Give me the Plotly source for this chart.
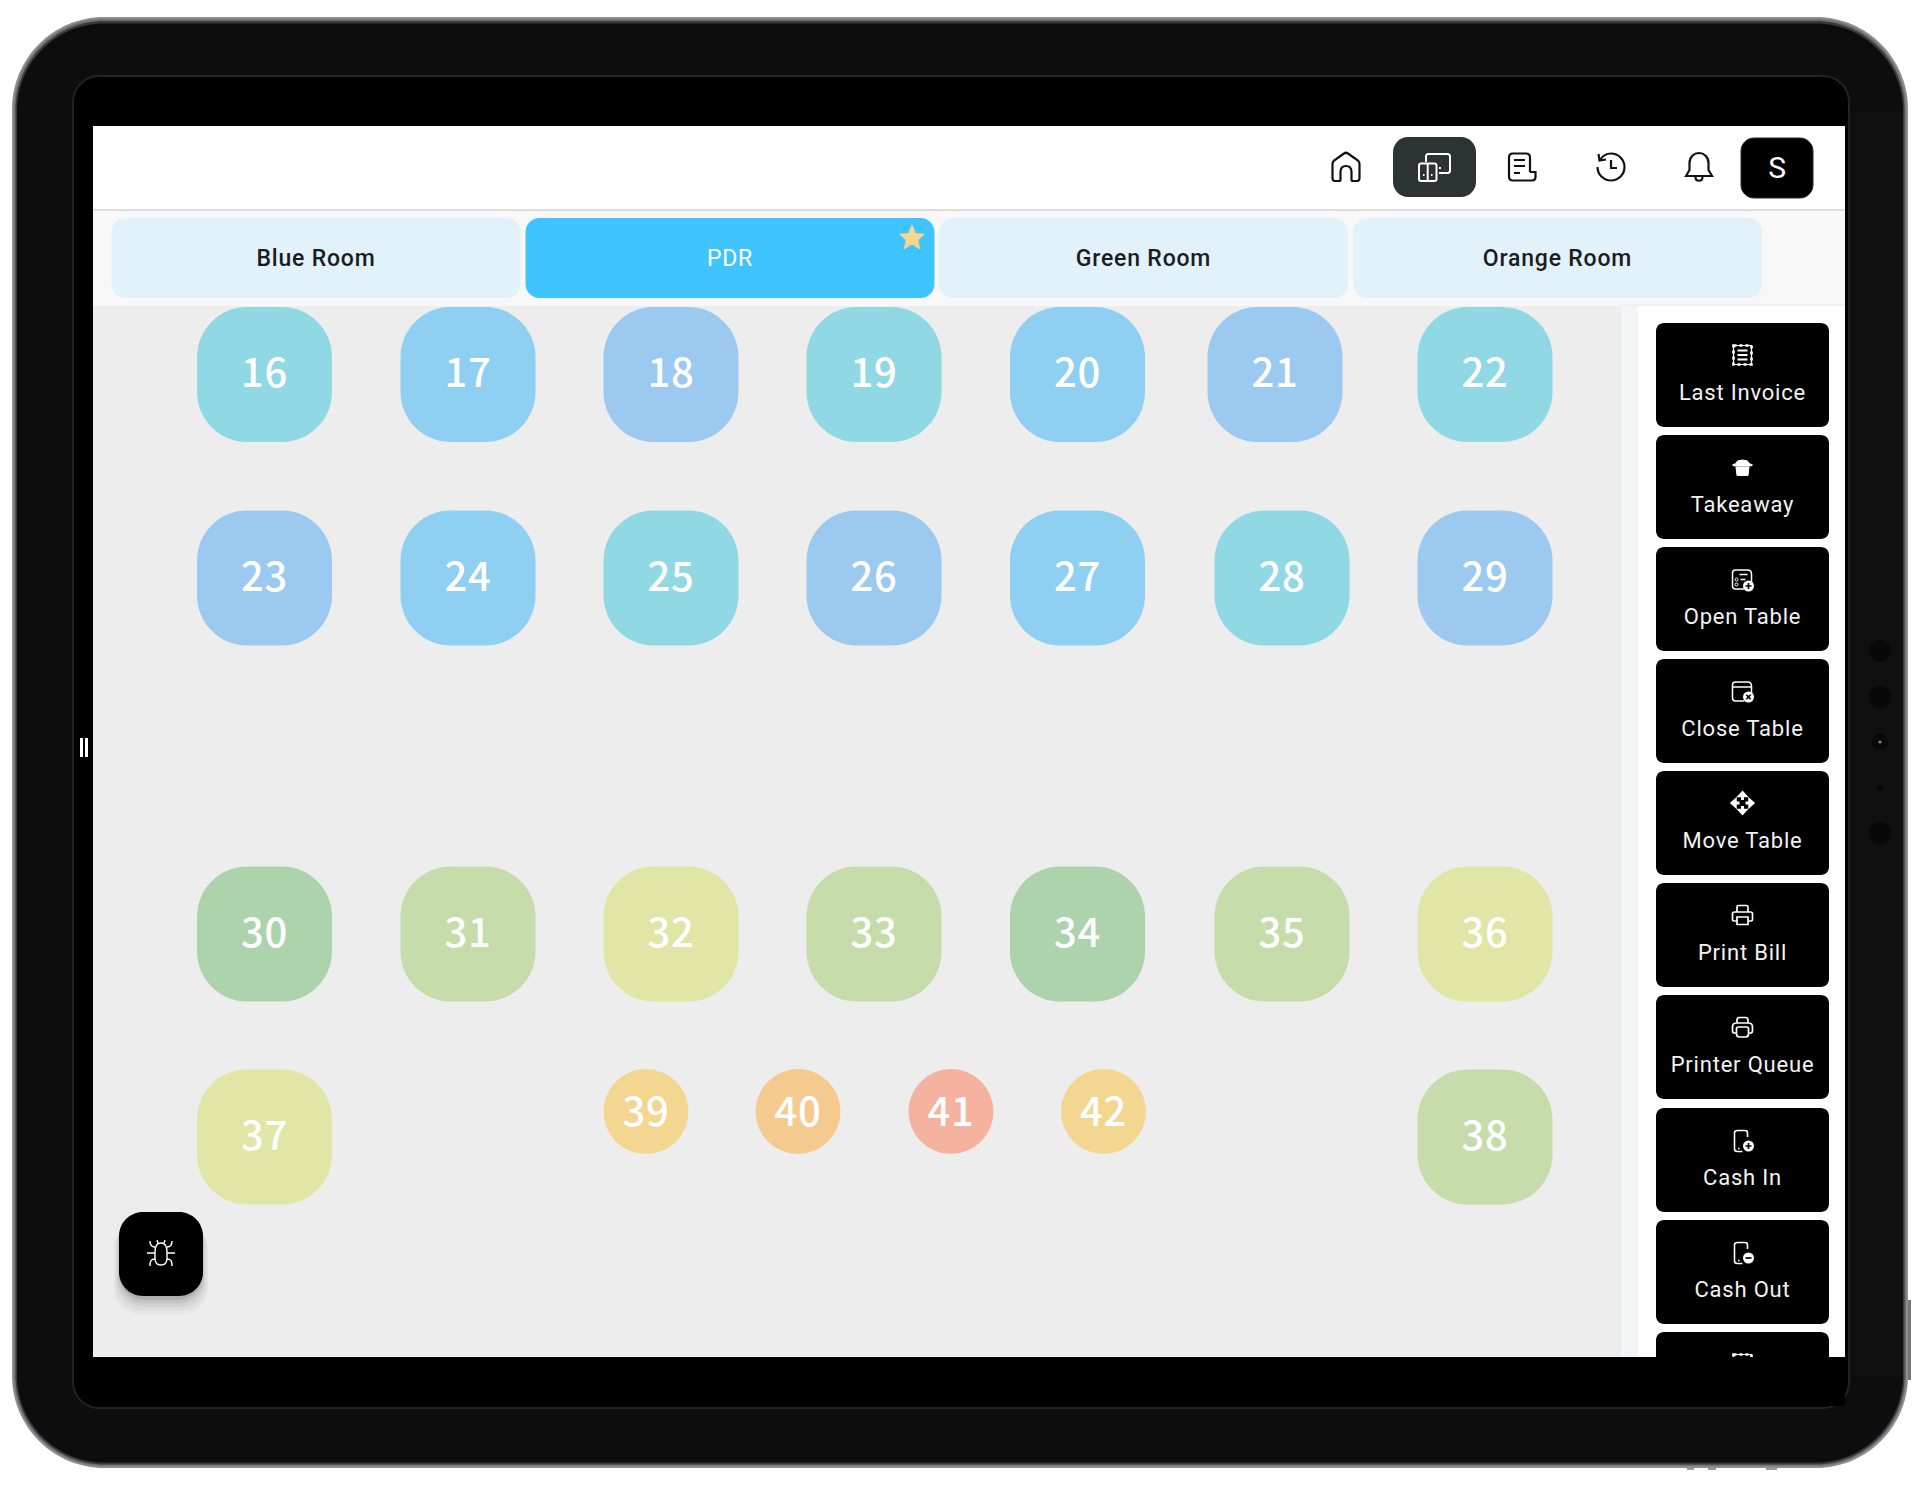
import re
import plotly.graph_objects as go

# ---- labels / values
table_labels = [16, 17, 18, 19, 20, 21, 22,
                23, 24, 25, 26, 27, 28, 29,
                30, 31, 32, 33, 34, 35, 36,
                37, 38]
table_tones = ["teal", "sky", "peri", "teal", "sky", "peri", "teal",
               "peri", "sky", "teal", "peri", "sky", "teal", "peri",
               "green", "moss", "lime", "moss", "green", "moss", "lime",
               "lime", "moss"]
round_labels = [39, 40, 41, 42]
round_tones = ["amber", "orange", "salmon", "amber"]
room_names = ["Blue Room", "PDR", "Green Room", "Orange Room"]
action_names = ["Last Invoice", "Takeaway", "Open Table", "Close Table", "Move Table",
                "Print Bill", "Printer Queue", "Cash In", "Cash Out"]
user_initial = ["S"]

# ---- positions (px of the 1920x1485 page)
table_x = [264.5, 468, 671, 874, 1077.5, 1275, 1485,
           264.5, 468, 671, 874, 1077.5, 1282, 1485,
           264.5, 468, 671, 874, 1077.5, 1282, 1485,
           264.5, 1485]
table_y = [374.5] * 7 + [578] * 7 + [934] * 7 + [1137] * 2
round_x = [646, 798, 951, 1103.5]
round_y = [1111.5] * 4
room_x0 = [111.5, 525.5, 939, 1353]
action_top = [323, 435, 547, 659, 771, 883, 995, 1108, 1220, 1332]

tones = dict(teal="#90d9e4", sky="#8fd0f2", peri="#9bc9ef", green="#acd3ac", moss="#c6dcaa",
             lime="#e1e6a6", amber="#f3d690", orange="#f5ca8e", salmon="#f5b29f")

shapes = []


def rr(x0, y0, x1, y1, r):
    k = r * 0.45
    return (f"M{x0 + r} {y0} L{x1 - r} {y0} C{x1 - k} {y0} {x1} {y0 + k} {x1} {y0 + r} "
            f"L{x1} {y1 - r} C{x1} {y1 - k} {x1 - k} {y1} {x1 - r} {y1} "
            f"L{x0 + r} {y1} C{x0 + k} {y1} {x0} {y1 - k} {x0} {y1 - r} "
            f"L{x0} {y0 + r} C{x0} {y0 + k} {x0 + k} {y0} {x0 + r} {y0} Z")


def add_path(path, fill=None, line=None, width=0, opacity=1, dash="solid"):
    shapes.append(dict(type="path", path=path, xref="x", yref="y", layer="below", opacity=opacity,
                       fillcolor=fill or "rgba(0,0,0,0)",
                       line=dict(color=line or "rgba(0,0,0,0)", width=width, dash=dash)))


def box(x0, y0, x1, y1, r, fill, line=None, width=0, opacity=1):
    if r:
        add_path(rr(x0, y0, x1, y1, r), fill, line, width, opacity)
    else:
        shapes.append(dict(type="rect", x0=x0, y0=y0, x1=x1, y1=y1, xref="x", yref="y", layer="below",
                           fillcolor=fill, line=dict(width=0), opacity=opacity))


def at(path, cx, cy):
    out, i = [], 0
    for tok in re.findall(r"[MLCQZ]|-?\d+\.?\d*", path):
        if tok in "MLCQZ":
            out.append(tok)
        else:
            out.append(str(float(tok) + (cx if i % 2 == 0 else cy)))
            i += 1
    return " ".join(out)


def icon(path, cx, cy, color="#ffffff", width=2, fill=None, dash="solid"):
    add_path(at(path, cx, cy), fill, color if width else None, width, dash=dash)


def disc(cx, cy, r, fill, line=None, width=0):
    shapes.append(dict(type="circle", x0=cx - r, y0=cy - r, x1=cx + r, y1=cy + r, xref="x", yref="y",
                       layer="below", fillcolor=fill,
                       line=dict(color=line or "rgba(0,0,0,0)", width=width)))


# ---- device
box(12, 17, 1908, 1468, 92, "#8e8e92")
box(14, 19, 1906, 1466, 90, "#707074")
box(15.5, 21, 1904.5, 1464.5, 88.5, "#3a3a3c")
box(17, 23.5, 1903, 1462.5, 87, "#0d0d0d")
box(1851, 112, 1903, 1375, 0, "#101010")
box(73, 76, 1849, 1408, 26, "#000000", "#232323", 2)
box(1908, 1300, 1911, 1380, 0, "#77777a")
for bx0, bx1 in [(1687, 1694), (1708, 1716), (1766, 1777)]:
    box(bx0, 1468, bx1, 1470, 0, "#9a9a9a")
for cam_y, cam_r in [(651, 11), (697, 11), (742, 8), (788, 3), (833, 11)]:
    disc(1880, cam_y, cam_r, "#080808")
disc(1880, 742, 1.5, "#7c8aa0")

# ---- screen
box(93, 126, 1845, 1357, 0, "#ffffff")
box(93, 209, 1845, 306, 0, "#f8f8f8")
box(93, 209, 1845, 211, 0, "#dedede")
box(93, 306, 1621, 1357, 0, "#ededed")
box(1621, 306, 1638, 1357, 0, "#f4f5f7")
box(1638, 306, 1845, 1357, 0, "#ffffff")
box(1621, 304, 1845, 306, 0, "#f0f0f0")

for i, x0 in enumerate(room_x0):
    box(x0, 218, x0 + 409, 298, 14, "#40c4ff" if i == 1 else "#e1f2fb")
star = ("M0 -12 L3.4 -4.2 L11.5 -3.6 L5.5 2 L7.3 10 L0 5.8 L-7.3 10 L-5.5 2 L-11.5 -3.6 L-3.4 -4.2 Z")
icon(star, 912, 238, "#f3d690", 1.5, "#f3d690")

for x, y, tone in zip(table_x, table_y, table_tones):
    box(x - 67.5, y - 67.5, x + 67.5, y + 67.5, 50, tones[tone])
for x, y, tone in zip(round_x, round_y, round_tones):
    disc(x, y, 42.5, tones[tone])

# ---- header
box(1393, 137, 1476, 197, 15, "#2d3235")
box(1741, 138, 1813, 198, 13, "#000000", "#2a2a2a", 1)
home = ("M-13.5 11 L-13.5 -3 Q-13.5 -5 -12 -6.5 L-2 -13.5 Q0 -15 2 -13.5 L12 -6.5 Q13.5 -5 13.5 -3 L13.5 11 "
        "Q13.5 14 11 14 L7 14 Q5.5 14 5.5 12.5 L5.5 5 Q5.5 -1 0 -1 Q-5.5 -1 -5.5 5 L-5.5 12.5 Q-5.5 14 -7 14 "
        "L-11 14 Q-13.5 14 -13.5 11 Z")
icon(home, 1346, 167, "#111111", 2.2)
icon("M-13 -3.5 L0.5 -3.5 Q2.5 -3.5 2.5 -1.5 L2.5 12 Q2.5 14 0.5 14 L-13 14 Q-15 14 -15 12 L-15 -1.5 "
     "Q-15 -3.5 -13 -3.5 Z M-6.3 -3.5 L-6.3 14", 1434, 167)
icon("M-8 -5 L-8 -10.5 Q-8 -13 -5.5 -13 L13.5 -13 Q16 -13 16 -10.5 L16 3.5 Q16 6 13.5 6 L5 6", 1434, 167)
icon("M-11 8 L-9.5 8 M-3 8 L-1.5 8 M5 1 L7 1", 1434, 167)
icon("M8 5 L8 -9.5 Q8 -13.5 4 -13.5 L-9 -13.5 Q-13 -13.5 -13 -9.5 L-13 9.5 Q-13 13.5 -9 13.5 L10 13.5 "
     "Q13.5 13.5 13.5 10 L13.5 5 L8 5 M-8 -7 L3 -7 M-8 -1 L3 -1 M-8 6 L-2 6", 1522, 167, "#111111", 2.2)
icon("M-11 -7 C-8.5 -11 -4.5 -13.5 0 -13.5 C7.5 -13.5 13.5 -7.5 13.5 0 C13.5 7.5 7.5 13.5 0 13.5 "
     "C-7.5 13.5 -13.5 7.5 -13.5 0 M-12.5 -13 L-11.5 -6.5 L-5 -7.5 M0 -7 L0 1 L6 1", 1611, 167, "#111111", 2.2)
icon("M-13 9 L-9.5 3 L-9.5 -4 C-9.5 -10 -5 -14 0 -14 C5 -14 9.5 -10 9.5 -4 L9.5 3 L13 9 Z "
     "M-3.5 10 C-3.5 15 3.5 15 3.5 10", 1699, 167, "#111111", 2.2)

# ---- sidebar actions
for top in action_top[:-1]:
    box(1656, top, 1829, top + 104, 8, "#000000")
box(1656, action_top[-1], 1829, action_top[-1] + 50, 8, "#000000")
ax = 1742.5
sheet = "M-9 -9.5 L9 -9.5 L9 9.5 L-9 9.5 Z"
rows = "M-5 -4.5 L5 -4.5 M-5 0 L5 0 M-5 4.5 L5 4.5"
for top in [action_top[0], action_top[9]]:
    icon(sheet, ax, top + 32, width=1.2)
    icon(sheet, ax, top + 32, width=2.6, dash="dot")
    icon(rows, ax, top + 32, width=2)
icon("M-6.5 0 L6.5 0 L5.5 8.5 L-5.5 8.5 Z", ax, action_top[1] + 32, width=1, fill="#ffffff")
icon("M-10 -2 Q-6 -3 -5 -6 Q0 -8 5 -6 Q6 -3 10 -2 L8 -1 L-8 -1 Z", ax, action_top[1] + 32, width=1, fill="#ffffff")
table_box = "M2 9 L-7 9 Q-10 9 -10 6 L-10 -7 Q-10 -10 -7 -10 L5 -10 Q9 -10 9 -6 L9 2"
icon(table_box + " M-3 -5.5 L5 -5.5 M-2 -0.5 L3 -0.5", ax, action_top[2] + 33, width=1.5)
disc(ax - 6, action_top[2] + 32.5, 1.5, "#000000", "#ffffff", 1)
disc(ax - 6, action_top[2] + 37.5, 1.5, "#000000", "#ffffff", 1)
disc(ax + 6, action_top[2] + 39, 5.5, "#ffffff")
icon("M-3 0 L3 0 M0 -3 L0 3", ax + 6, action_top[2] + 39, "#000000", 1.6)
icon(table_box + " M-10 -5 L9 -5", ax, action_top[3] + 33, width=1.5)
disc(ax + 6, action_top[3] + 38, 5.5, "#ffffff")
icon("M-2.2 -2.2 L2.2 2.2 M2.2 -2.2 L-2.2 2.2", ax + 6, action_top[3] + 38, "#000000", 1.6)
mt = action_top[4] + 32
icon("M-4.5 -6.5 L0 -11.5 L4.5 -6.5 Z M-4.5 6.5 L0 11.5 L4.5 6.5 Z M-6.5 -4.5 L-11.5 0 L-6.5 4.5 Z M6.5 -4.5 L11.5 0 L6.5 4.5 Z",
     ax, mt, width=1.5, fill="#ffffff")
icon("M0 -7 L0 -3 M0 7 L0 3 M-7 0 L-3 0 M7 0 L3 0", ax, mt, width=3)
printer = ("M-5.5 -4 L-5.5 -9 Q-5.5 -10.5 -4 -10.5 L4 -10.5 Q5.5 -10.5 5.5 -9 L5.5 -4 M-5.5 5 L-8.5 5 Q-10 5 -10 3.5 "
           "L-10 -2 Q-10 -4 -8 -4 L8 -4 Q10 -4 10 -2 L10 3.5 Q10 5 8.5 5 L5.5 5 M-5.5 1 L5.5 1 L5.5 8.5 L-5.5 8.5 Z")
icon(printer, ax, action_top[5] + 33, width=1.7)
queue = ("M-5.5 -5 L-5.5 -8 Q-5.5 -10.5 -3 -10.5 L3 -10.5 Q5.5 -10.5 5.5 -8 L5.5 -5 M-6 5 L-8 5 Q-10 5 -10 2.5 "
         "L-10 -1 Q-10 -5 -6 -5 L6 -5 Q10 -5 10 -1 L10 2.5 Q10 5 8 5 L6 5 M-6 1 Q-6 -1 -4 -1 L4 -1 Q6 -1 6 1 L6 6 "
         "Q6 9 3 9 L-3 9 Q-6 9 -6 6 Z")
icon(queue, ax, action_top[6] + 33, width=1.7)
for top, mark in [(action_top[7], "M-3 0 L3 0 M0 -3 L0 3"), (action_top[8], "M-3 0 L3 0")]:
    icon("M5 -4 L5 -8 Q5 -10.5 2.5 -10.5 L-5 -10.5 Q-8 -10.5 -8 -8 L-8 8 Q-8 10.5 -5 10.5 L0 10.5 "
         "M-4.5 7.5 L-3 7.5", ax, top + 33, width=1.6)
    disc(ax + 6, top + 38, 5.5, "#ffffff")
    icon(mark, ax + 6, top + 38, "#000000", 1.7)

# bezel over the clipped last button
box(93, 1357, 1845, 1406, 0, "#000000")

# handle on the left edge of the screen
box(80, 738, 83, 757, 0, "#ffffff")
box(85, 738, 88, 757, 0, "#ffffff")

# ---- bug button
for grow, drop, alpha in [(5, 16, 0.05), (4, 13, 0.06), (2, 10, 0.09), (1, 7, 0.12), (0, 4, 0.2)]:
    box(119 - grow, 1212 + drop - grow, 203 + grow, 1296 + drop + grow * 0.4, 26, "#60666b", opacity=alpha)
box(119, 1212, 203, 1296, 24, "#000000")
icon("M0 -11 C5 -11 6 -6 6 -2 L6 4 C6 9 3 11 0 11 C-3 11 -6 9 -6 4 L-6 -2 C-6 -6 -5 -11 0 -11 Z "
     "M-6 -1 L-14 -1 M6 -1 L14 -1 M-6 -7 C-10 -7 -11 -9 -11 -13 M6 -7 C10 -7 11 -9 11 -13 "
     "M-6 5 C-10 5 -11 7 -11 12 M6 5 C10 5 11 7 11 12 M-3 -11 L-4 -14 M3 -11 L4 -14",
     161, 1254, width=1.4)

fig = go.Figure()


def labels(x, y, text, font, size, color, weight=400):
    fig.add_trace(go.Scatter(x=x, y=y, text=[str(t) for t in text], mode="text", textposition="middle center",
                             textfont=dict(family=font, size=size, color=color, weight=weight),
                             hoverinfo="skip", showlegend=False))


table_font = "Noto Sans CJK SC"
labels(table_x, [y + 2.5 for y in table_y], table_labels, table_font, 40, "#ffffff", 500)
labels(round_x, [y + 4 for y in round_y], round_labels, table_font, 40, "#ffffff", 500)
dark_rooms = [i for i in range(4) if i != 1]
labels([room_x0[i] + 204.5 for i in dark_rooms], [260] * 3, [room_names[i] for i in dark_rooms],
       "Roboto", 23, "#1c1c1c", 500)
labels([room_x0[1] + 204.5], [260], [room_names[1]], "Roboto", 23, "#ffffff")
labels([ax] * len(action_names), [t + 71 for t in action_top[:-1]], action_names, "Roboto", 22, "#f2f2f2")
labels([1777.5], [170], user_initial, "Roboto", 30, "#ffffff")

fig.update_layout(
    width=1920, height=1485,
    margin=dict(l=0, r=0, t=0, b=0),
    paper_bgcolor="#ffffff", plot_bgcolor="#ffffff",
    shapes=shapes,
    xaxis=dict(range=[0, 1920], visible=False, fixedrange=True),
    yaxis=dict(range=[1485, 0], visible=False, fixedrange=True),
)

page_css = ("document.body.style.margin='0';document.body.style.overflow='hidden';"
            "var s=document.createElement('style');s.textContent='.textpoint text{letter-spacing:.8px}';"
            "document.head.appendChild(s);")
fig.write_html("out.html", post_script=page_css, config=dict(displayModeBar=False))
